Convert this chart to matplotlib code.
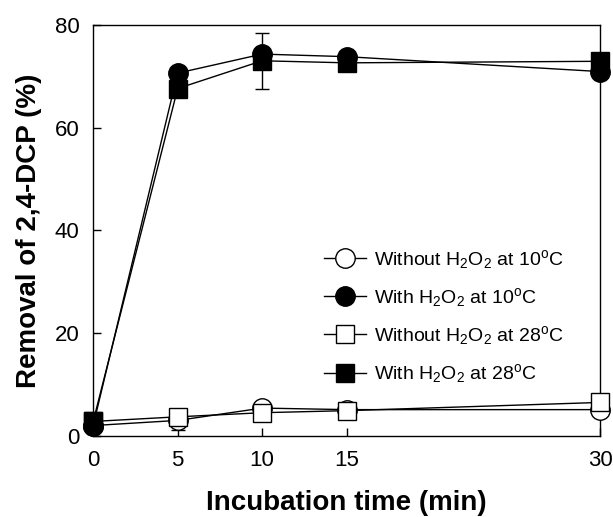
import matplotlib
matplotlib.use("Agg")
import matplotlib.pyplot as plt

plt.rcParams['font.family'] = ['Liberation Sans', 'DejaVu Sans']
plt.rcParams['mathtext.default'] = 'regular'

# incubation time (min)
time = [0, 5, 10, 15, 30]

# removal of 2,4-DCP (%)
wo_h2o2_10 = [2.0, 3.0, 5.4, 5.1, 5.1]
w_h2o2_10 = [2.0, 70.6, 74.3, 73.8, 70.9]
wo_h2o2_28 = [2.8, 3.7, 4.5, 4.9, 6.5]
w_h2o2_28 = [2.8, 67.6, 73.0, 72.6, 72.9]

# standard deviations
err_wo_10 = [0, 1.9, 0.8, 0.5, 0.5]
err_w_10 = [0, 0.5, 0.6, 0.4, 0.5]
err_wo_28 = [0, 0.4, 0.5, 0.4, 0.5]
err_w_28 = [0, 1.5, 5.4, 0.5, 0.5]

x_ticks = [0, 5, 10, 15, 30]
y_ticks = [0, 20, 40, 60, 80]

fig = plt.figure(figsize=(6.13, 5.17), dpi=100)
ax = fig.add_axes([0.152, 0.157, 0.827, 0.795])

series = [
    (wo_h2o2_10, err_wo_10, 'o', 'white', 'Without H$_2$O$_2$ at 10$^o$C'),
    (w_h2o2_10, err_w_10, 'o', 'black', 'With H$_2$O$_2$ at 10$^o$C'),
    (wo_h2o2_28, err_wo_28, 's', 'white', 'Without H$_2$O$_2$ at 28$^o$C'),
    (w_h2o2_28, err_w_28, 's', 'black', 'With H$_2$O$_2$ at 28$^o$C'),
]

for vals, err, mk, fc, lab in series:
    ax.errorbar(time, vals, yerr=err, color='black', lw=1.0, capsize=5,
                elinewidth=1.0, marker=mk, ms=14 if mk == 'o' else 13,
                mfc=fc, mec='black', mew=1.0, label=lab, clip_on=False, zorder=3)

ax.set_xlim(0, 30)
ax.set_ylim(0, 80)
ax.set_xticks(x_ticks)
ax.set_yticks(y_ticks)
ax.tick_params(direction='in', length=6, width=1, labelsize=16, pad=10,
               top=False, right=False)
for s in ax.spines.values():
    s.set_linewidth(1.0)

ax.set_xlabel('Incubation time (min)', fontsize=20, fontweight='bold', labelpad=14)
ax.set_ylabel('Removal of 2,4-DCP (%)', fontsize=20, fontweight='bold', labelpad=9)

handles, labels = ax.get_legend_handles_labels()
handles = [h[0] for h in handles]
ax.legend(handles, labels, loc='center left', bbox_to_anchor=(0.42, 0.29),
          frameon=False, fontsize=14, handlelength=2.2, labelspacing=0.78,
          handletextpad=0.4)

fig.savefig('out.png', dpi=100)
